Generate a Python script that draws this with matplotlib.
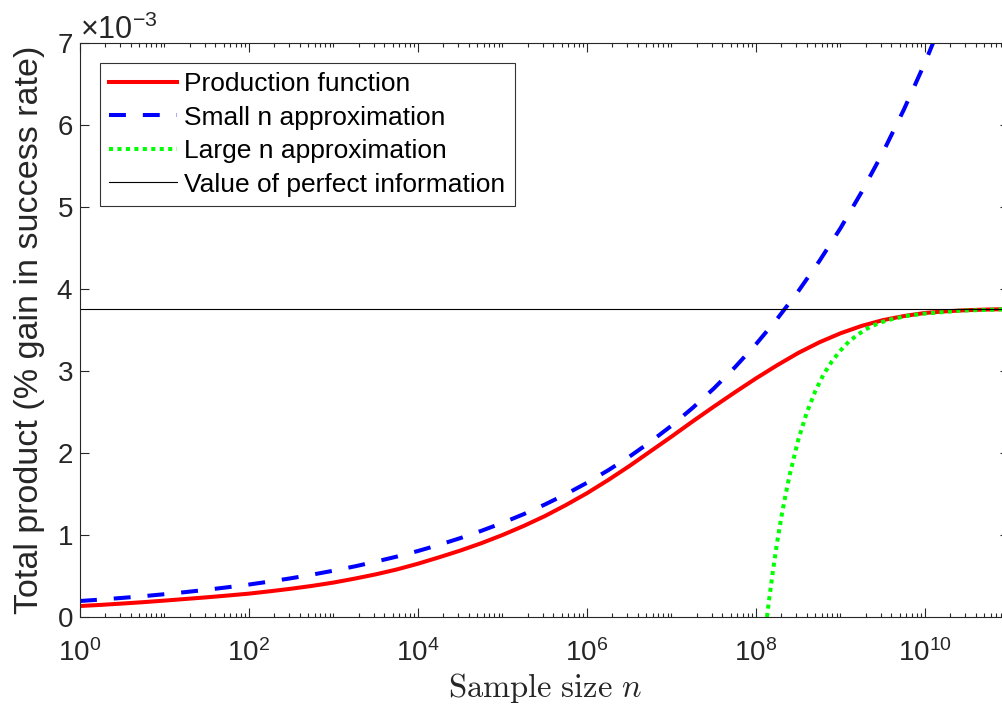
import numpy as np
import matplotlib
matplotlib.use("Agg")
import matplotlib.pyplot as plt
from matplotlib.ticker import FixedLocator, FuncFormatter, ScalarFormatter

plt.rcParams['font.family'] = ['Liberation Sans', 'DejaVu Sans']
plt.rcParams['mathtext.fontset'] = 'custom'
plt.rcParams['mathtext.rm'] = 'Liberation Sans'
plt.rcParams['mathtext.it'] = 'Liberation Sans:italic'

# values (log10 of n, total product in units of 1e-3)
prod_logn = [0, 0.25, 0.5, 0.75, 1, 1.25, 1.5, 1.75, 2, 2.25, 2.5, 2.75, 3,
             3.25, 3.5, 3.75, 4, 4.25, 4.5, 4.75, 5, 5.25, 5.5, 5.75, 6, 6.25,
             6.5, 6.75, 7, 7.25, 7.5, 7.75, 8, 8.25, 8.5, 8.75, 9, 9.25, 9.5,
             9.75, 10, 10.25, 10.5, 10.75, 11]
prod_val = [0.134, 0.148, 0.164, 0.181, 0.200, 0.220, 0.240, 0.262, 0.285,
            0.314, 0.345, 0.380, 0.420, 0.468, 0.520, 0.580, 0.650, 0.728,
            0.810, 0.900, 1.000, 1.110, 1.230, 1.365, 1.510, 1.670, 1.840,
            2.020, 2.200, 2.385, 2.565, 2.740, 2.910, 3.070, 3.220, 3.350,
            3.460, 3.550, 3.620, 3.670, 3.708, 3.728, 3.742, 3.750, 3.755]

small_logn = [0, 0.25, 0.5, 0.75, 1, 1.25, 1.5, 1.75, 2, 2.25, 2.5, 2.75, 3,
              3.25, 3.5, 3.75, 4, 4.25, 4.5, 4.75, 5, 5.25, 5.5, 5.75, 6, 6.25,
              6.5, 6.75, 7, 7.25, 7.5, 7.75, 8, 8.25, 8.5, 8.75, 9, 9.25, 9.5,
              9.75, 10, 10.25]
small_val = [0.195, 0.213, 0.233, 0.254, 0.278, 0.304, 0.332, 0.363, 0.396,
             0.433, 0.473, 0.517, 0.565, 0.617, 0.675, 0.737, 0.805, 0.880,
             0.962, 1.051, 1.148, 1.254, 1.371, 1.498, 1.637, 1.789, 1.954,
             2.136, 2.333, 2.550, 2.786, 3.045, 3.327, 3.635, 3.972, 4.341,
             4.742, 5.183, 5.662, 6.188, 6.761, 7.388]

large_logn = [8.13, 8.15, 8.2, 8.25, 8.3, 8.35, 8.4, 8.5, 8.6, 8.7, 8.8, 8.9,
              9.0, 9.1, 9.2, 9.3, 9.4, 9.5, 9.6, 9.8, 10.0, 10.4, 11.0]
large_val = [0.0, 0.17, 0.56, 0.91, 1.22, 1.49, 1.74, 2.16, 2.49, 2.75, 2.96,
             3.12, 3.25, 3.36, 3.44, 3.51, 3.56, 3.60, 3.63, 3.675, 3.70,
             3.735, 3.754]

perfect_info = 3.76

labels = ['Production function', 'Small n approximation',
          'Large n approximation', 'Value of perfect information']

fig = plt.figure(figsize=(10.03, 7.10), dpi=100)
ax = fig.add_axes([80 / 1003, 93 / 710, 929.5 / 1003, 574 / 710])

ax.plot(10 ** np.array(prod_logn), np.array(prod_val) * 1e-3,
        color=(1, 0, 0), lw=2.9, label=labels[0])
ax.plot(10 ** np.array(small_logn), np.array(small_val) * 1e-3,
        color=(0, 0, 1), lw=2.9, dashes=(4.2, 4.2), dash_capstyle='butt',
        label=labels[1])
ax.plot(10 ** np.array(large_logn), np.array(large_val) * 1e-3,
        color=(0, 1, 0), lw=2.9, dashes=(1, 1.1), dash_capstyle='butt',
        label=labels[2])
ax.axhline(perfect_info * 1e-3, color='black', lw=0.8, label=labels[3])

ax.set_xscale('log')
ax.set_xlim(1, 1e11)
ax.set_ylim(0, 7e-3)

majors = [10.0 ** k for k in range(0, 11, 2)]
minors = [j * 10.0 ** k for k in range(0, 11) for j in range(1, 10)
          if not (j == 1 and k % 2 == 0)]
ax.xaxis.set_major_locator(FixedLocator(majors))
ax.xaxis.set_minor_locator(FixedLocator(minors))
ax.xaxis.set_major_formatter(FuncFormatter(lambda v, p: r'$10^{%d}$' % round(np.log10(v))))
ax.xaxis.set_minor_formatter(FuncFormatter(lambda v, p: ''))

ax.set_yticks(np.arange(0, 8) * 1e-3)
fmt = ScalarFormatter(useMathText=True)
fmt.set_powerlimits((-2, 2))
ax.yaxis.set_major_formatter(fmt)
ax.yaxis.get_offset_text().set_fontsize(22)
ax.yaxis.get_offset_text().set_color('0.15')

ax.tick_params(which='both', direction='in', top=True, right=True,
               colors='0.15', labelsize=20)
ax.tick_params(which='major', length=6.5, width=0.8)
ax.tick_params(which='minor', length=3.2, width=0.8)
ax.tick_params(axis='x', pad=16)
ax.tick_params(axis='y', pad=5)
for s in ax.spines.values():
    s.set_color('0.15')
    s.set_linewidth(0.8)

ax.set_ylabel('Total product (% gain in success rate)', fontsize=24.5,
              color='0.15', labelpad=8)
ax.set_xlabel(r'$\mathrm{Sample\ size}\ n$', fontsize=23.5, color='0.15',
              math_fontfamily='cm', labelpad=3)

leg = ax.legend(loc='upper left', bbox_to_anchor=(20 / 929.5, 1 - 20 / 574),
                borderaxespad=0, fontsize=19, frameon=True, fancybox=False,
                edgecolor='black', handlelength=2.55, labelspacing=0.36,
                borderpad=0.35, handletextpad=0.3)
leg.get_frame().set_linewidth(0.8)

fig.savefig('out.png', dpi=100)
